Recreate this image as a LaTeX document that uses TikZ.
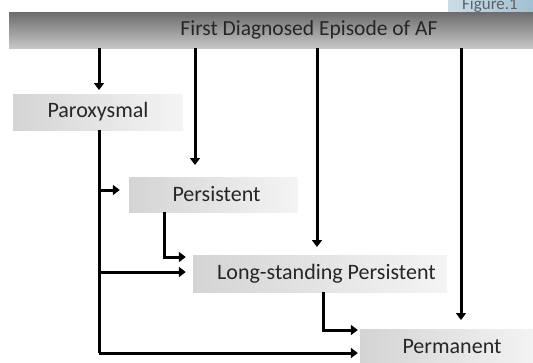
\documentclass[tikz,border=0pt]{standalone}
\usepackage{fontspec}
\setmainfont{Carlito}
\usetikzlibrary{arrows.meta}
\definecolor{txt}{HTML}{262626}
\definecolor{boxL}{HTML}{D4D4D4}
\definecolor{boxR}{HTML}{F4F4F4}
\definecolor{barT}{HTML}{6C6C6C}
\definecolor{barB}{HTML}{C6C6C6}
\definecolor{tabL}{HTML}{CADDE7}
\definecolor{tabR}{HTML}{9EBFD0}
\tikzset{
  stage/.style={rectangle, inner sep=0pt, left color=boxL, right color=boxR, draw=none,
    font=\fontsize{22}{24}\selectfont, text=txt},
  arr/.style={line width=3pt, -{Triangle[length=7pt,width=10pt]}},
  ln/.style={line width=3pt}
}
\begin{document}
\begin{tikzpicture}[x=1pt,y=-1pt]
\useasboundingbox (0,0) rectangle (533,362);
\clip (0,0) rectangle (533,362);
% Figure tab
\node[rectangle, inner sep=0pt, minimum width=90pt, minimum height=24pt, left color=tabL, right color=tabR] (tab) at (493,0) {};
\node[anchor=base, text=black!62, font=\fontsize{17}{18}\selectfont] (tabtxt) at (490,9) {Figure.1};
% top bar
\node[rectangle, inner sep=0pt, minimum width=600pt, minimum height=36pt, top color=barT, bottom color=barB,
      font=\fontsize{21.5}{24}\selectfont, text=txt] (top) at (309,30) {First Diagnosed Episode of AF};
% stages
\node[stage, minimum width=170pt, minimum height=36pt] (par) at (98,112) {Paroxysmal};
\node[stage, minimum width=169pt, minimum height=35pt] (pers) at (213.5,194.5) {\hspace*{6pt}Persistent};
\node[stage, minimum width=254pt, minimum height=37pt] (lsp) at (320,273.5) {\hspace*{13pt}Long-standing Persistent};
\node[stage, minimum width=180pt, minimum height=34pt, text depth=0pt] (perm) at (450,346) {\hspace*{4pt}Permanent};
% coordinates
\coordinate (a1) at (99,90);
\coordinate (a2) at (195,165);
\coordinate (a3) at (317,247);
\coordinate (a4) at (461,320);
% top arrows
\draw[arr] (top.south -| a1) -- (a1);
\draw[arr] (top.south -| a2) -- (a2);
\draw[arr] (top.south -| a3) -- (a3);
\draw[arr] (top.south -| a4) -- (a4);
% from paroxysmal
\coordinate (pb) at (99,130);
\coordinate (pin) at ([yshift=4.5pt]pers.west);
\coordinate (lin) at ([yshift=1.5pt]lsp.west);
\coordinate (min) at ([yshift=-7pt]perm.west);
\draw[ln] (pb) -- (pb |- min);
\draw[arr, shorten >=9pt] (pb |- pin) -- (pin);
\draw[arr, shorten >=7pt] (pb |- lin) -- (lin);
\draw[arr, shorten >=2pt] (pb |- min) -- (min);
% persistent -> long-standing
\coordinate (pout) at (164,212);
\coordinate (lin2) at ([yshift=16.5pt]lsp.west);
\draw[arr, shorten >=7pt] (pout) |- (lin2);
% long-standing -> permanent
\coordinate (lout) at (323,292);
\coordinate (min2) at ([yshift=16pt]perm.west);
\draw[arr, shorten >=2pt] (lout) |- (min2);
\end{tikzpicture}
\end{document}
